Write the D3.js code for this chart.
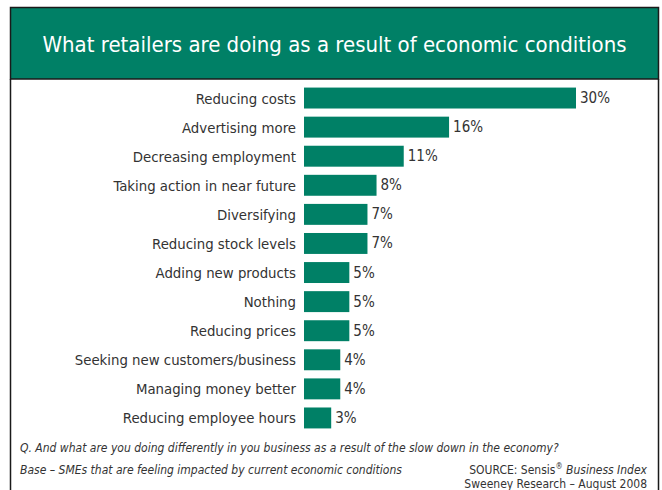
<!DOCTYPE html>
<html>
<head>
<meta charset="utf-8">
<script src="https://cdn.jsdelivr.net/npm/d3@7"></script>
<style>
  html, body { margin: 0; padding: 0; background: #fff; }
  svg { display: block; }
  text { font-family: "DejaVu Sans Condensed", "Liberation Sans Narrow", "Open Sans", sans-serif; }
</style>
</head>
<body>
<script>
// Survey responses: share of retailers taking each action
const actions = [
  "Reducing costs",
  "Advertising more",
  "Decreasing employment",
  "Taking action in near future",
  "Diversifying",
  "Reducing stock levels",
  "Adding new products",
  "Nothing",
  "Reducing prices",
  "Seeking new customers/business",
  "Managing money better",
  "Reducing employee hours"
];
const shares = [30, 16, 11, 8, 7, 7, 5, 5, 5, 4, 4, 3];

const title = "What retailers are doing as a result of economic conditions";
const question = "Q. And what are you doing differently in you business as a result of the slow down in the economy?";
const base = "Base \u2013 SMEs that are feeling impacted by current economic conditions";
const sourceLine = "Sweeney Research \u2013 August 2008";

const W = 662, H = 490;
const green = "#008066";
const ink = "#333333";

const svg = d3.select("body").append("svg").attr("width", W).attr("height", H);

// Frame: left/right rules and header band
const frameL = 10.5, frameR = 658.5, frameT = 7.5, headerB = 79;
svg.append("rect")
  .attr("x", frameL).attr("y", frameT)
  .attr("width", frameR - frameL).attr("height", headerB - frameT)
  .attr("fill", green).attr("stroke", "#1a1a1a").attr("stroke-width", 1.5);
svg.append("line").attr("x1", frameL).attr("x2", frameL).attr("y1", headerB).attr("y2", H)
  .attr("stroke", "#1a1a1a").attr("stroke-width", 1.5);
svg.append("line").attr("x1", frameR).attr("x2", frameR).attr("y1", headerB).attr("y2", H)
  .attr("stroke", "#1a1a1a").attr("stroke-width", 1.5);

svg.append("text")
  .attr("x", (frameL + frameR) / 2).attr("y", 44)
  .attr("text-anchor", "middle").attr("dominant-baseline", "central")
  .attr("fill", "#fff").attr("font-size", 22)
  .text(title);

// Scales
const x = d3.scaleLinear().domain([0, 30]).range([304, 576]);
const y = d3.scaleBand().domain(actions).range([83.5, 432.5]).paddingInner(0.28).paddingOuter(0.14);

const rows = svg.append("g").selectAll("g").data(actions).join("g");

rows.append("rect")
  .attr("x", x(0))
  .attr("y", d => y(d))
  .attr("width", (d, i) => x(shares[i]) - x(0))
  .attr("height", y.bandwidth())
  .attr("fill", green);

rows.append("text")
  .attr("x", x(0) - 8)
  .attr("y", d => y(d) + y.bandwidth() / 2)
  .attr("text-anchor", "end").attr("dominant-baseline", "central")
  .attr("fill", ink).attr("font-size", 14.8)
  .text(d => d);

rows.append("text")
  .attr("x", (d, i) => x(shares[i]) + 4)
  .attr("y", d => y(d) + y.bandwidth() / 2)
  .attr("dominant-baseline", "central")
  .attr("fill", ink).attr("font-size", 15)
  .text((d, i) => shares[i] + "%");

// Notes
const notes = svg.append("g").attr("fill", ink).attr("font-size", 12);
notes.append("text").attr("x", 20).attr("y", 452).attr("font-style", "italic").text(question);
notes.append("text").attr("x", 20).attr("y", 474).attr("font-style", "italic").text(base);

const src = notes.append("text").attr("x", 647).attr("y", 474).attr("text-anchor", "end");
src.append("tspan").text("SOURCE: Sensis");
src.append("tspan").attr("font-size", 8).attr("dy", -5).text("\u00AE");
src.append("tspan").attr("dy", 5).text(" ");
src.append("tspan").attr("font-style", "italic").text("Business Index");

notes.append("text").attr("x", 647).attr("y", 487.5).attr("text-anchor", "end").text(sourceLine);
</script>
</body>
</html>
